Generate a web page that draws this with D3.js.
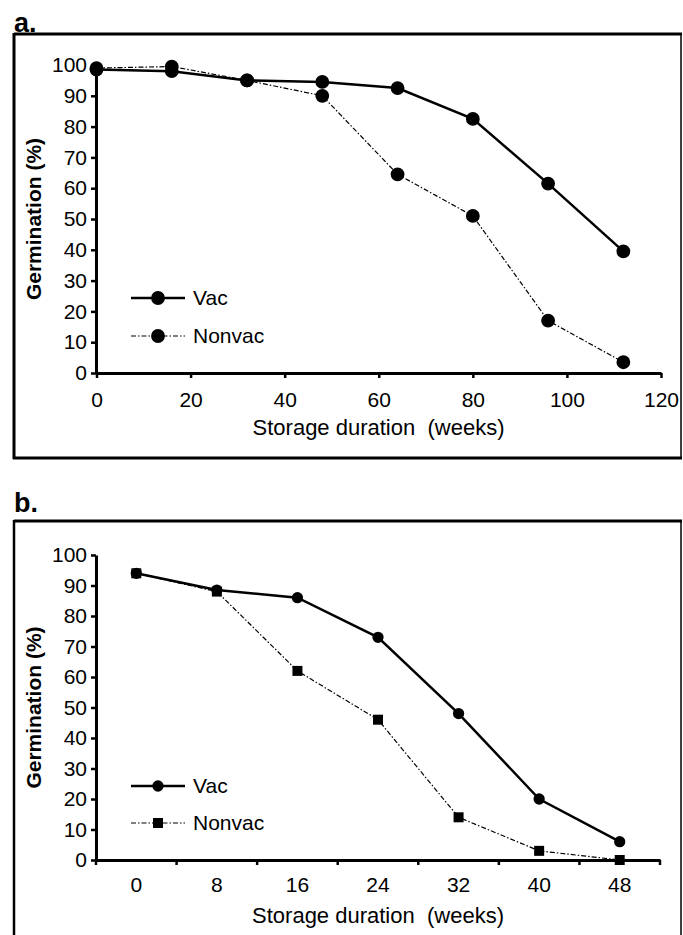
<!DOCTYPE html>
<html>
<head>
<meta charset="utf-8">
<script src="https://cdn.jsdelivr.net/npm/d3@7"></script>
<style>
  body { margin: 0; background: #fff; }
  text { font-family: "Liberation Sans", Arial, sans-serif; fill: #000; }
</style>
</head>
<body>
<div id="chart"></div>
<script>
// panel a
const weeksA = [0, 16, 32, 48, 64, 80, 96, 112];
const vacA = [98.5, 98, 95, 94.5, 92.5, 82.5, 61.5, 39.5];
const nonvacA = [99, 99.5, 95, 90, 64.5, 51, 17, 3.5];
const xTicksA = [0, 20, 40, 60, 80, 100, 120];

// panel b
const weeksB = [0, 8, 16, 24, 32, 40, 48];
const vacB = [94, 88.5, 86, 73, 48, 20, 6];
const nonvacB = [94, 88, 62, 46, 14, 3, 0];

const yTicks = [0, 10, 20, 30, 40, 50, 60, 70, 80, 90, 100];
const seriesNames = ["Vac", "Nonvac"];

const W = 683, H = 935;

const svg = d3
  .select("#chart")
  .append("svg")
  .attr("width", W)
  .attr("height", H);

// frames
function frameLine(x1, y1, x2, y2, w) {
  svg.append("line")
    .attr("x1", x1).attr("y1", y1).attr("x2", x2).attr("y2", y2)
    .attr("stroke", "#000").attr("stroke-width", w);
}
frameLine(14, 34, 682, 34, 3);
frameLine(14, 33, 14, 459, 3);
frameLine(681, 34, 681, 459, 1.5);
frameLine(13, 458, 682, 458, 3);

frameLine(14, 521, 682, 521, 3);
frameLine(14, 520, 14, 935, 2.5);
frameLine(681, 521, 681, 935, 1.5);

const lineStyle = {
  Vac: { width: 2.5, dash: null },
  Nonvac: { width: 1.2, dash: "5,2,1.5,2" }
};

function drawPanel(p) {
  const g = svg.append("g");

  g.append("text")
    .attr("x", 14)
    .attr("y", p.labelY)
    .style("font-size", "27px")
    .style("font-weight", "bold")
    .text(p.label);

  const y = d3.scaleLinear().domain([0, 100]).range([p.y0, p.y100]);

  // y axis
  const yAxis = g.append("g")
    .attr("transform", `translate(${p.axisX},0)`)
    .call(d3.axisLeft(y).tickValues(yTicks).tickSize(5).tickSizeOuter(0).tickPadding(4));
  yAxis.select(".domain").attr("stroke-width", 3);
  yAxis.selectAll(".tick line").attr("stroke-width", 2.5);
  yAxis.selectAll(".tick text")
    .style("font-size", "21px")
    .style("font-family", "'Liberation Sans', Arial, sans-serif");

  g.append("text")
    .attr("transform", `translate(41,${(p.y0 + p.y100) / 2}) rotate(-90)`)
    .attr("text-anchor", "middle")
    .style("font-size", "21px")
    .style("font-weight", "bold")
    .text("Germination (%)");

  // x axis
  const xAxis = g.append("g").attr("transform", `translate(0,${p.y0})`);
  let xPos;
  if (p.band) {
    const x = d3.scaleBand().domain(p.weeks).range([p.axisX, p.axisEnd]).padding(0);
    xPos = (d) => x(d) + x.bandwidth() / 2;
    xAxis.call(d3.axisBottom(x).tickSize(0).tickSizeOuter(0).tickPadding(17));
    xAxis.selectAll(".bound")
      .data(p.weeks.map((d) => x(d)).concat([x.range()[1]]))
      .join("line")
      .attr("class", "bound")
      .attr("x1", (d) => d).attr("x2", (d) => d)
      .attr("y1", 0).attr("y2", 5)
      .attr("stroke", "#000")
      .attr("stroke-width", 2.5);
  } else {
    const x = d3.scaleLinear().domain([0, 120]).range([p.axisX + 0.5, p.axisEnd]);
    xPos = (d) => x(d);
    xAxis.call(d3.axisBottom(x).tickValues(xTicksA).tickSize(5).tickSizeOuter(0).tickPadding(14));
    xAxis.selectAll(".tick line").attr("stroke-width", 2.5);
  }
  xAxis.select(".domain").attr("stroke-width", 3);
  xAxis.selectAll(".tick text")
    .style("font-size", "21px")
    .style("font-family", "'Liberation Sans', Arial, sans-serif");

  g.append("text")
    .attr("x", (p.axisX + p.axisEnd) / 2)
    .attr("y", p.titleY)
    .attr("text-anchor", "middle")
    .attr("xml:space", "preserve")
    .style("white-space", "pre")
    .style("font-size", "22px")
    .text("Storage duration  (weeks)");

  // series
  const series = [
    { name: "Vac", values: p.vac },
    { name: "Nonvac", values: p.nonvac }
  ];
  const line = d3.line()
    .x((d, i) => xPos(p.weeks[i]))
    .y((d) => y(d));

  series.forEach((s) => {
    const st = lineStyle[s.name];
    g.append("path")
      .attr("d", line(s.values))
      .attr("fill", "none")
      .attr("stroke", "#000")
      .attr("stroke-width", st.width)
      .attr("stroke-dasharray", st.dash);
  });

  series.forEach((s) => {
    const sym = d3.symbol().type(p.symbols[s.name]).size(p.symbolSize[s.name]);
    g.append("g")
      .selectAll("path")
      .data(s.values)
      .join("path")
      .attr("transform", (d, i) => `translate(${xPos(p.weeks[i])},${y(d)})`)
      .attr("d", sym)
      .attr("fill", "#000");
  });

  // legend
  const legend = g.append("g");
  seriesNames.forEach((name, i) => {
    const ly = p.legendY[i];
    const st = lineStyle[name];
    legend.append("line")
      .attr("x1", 131).attr("x2", 185)
      .attr("y1", ly).attr("y2", ly)
      .attr("stroke", "#000")
      .attr("stroke-width", st.width)
      .attr("stroke-dasharray", st.dash);
    legend.append("path")
      .attr("transform", `translate(158,${ly})`)
      .attr("d", d3.symbol().type(p.symbols[name]).size(p.symbolSize[name]))
      .attr("fill", "#000");
    legend.append("text")
      .attr("x", 193)
      .attr("y", ly)
      .attr("dy", "0.35em")
      .style("font-size", "21px")
      .text(name);
  });
}

drawPanel({
  label: "a.",
  labelY: 32,
  y0: 373,
  y100: 65,
  axisX: 96,
  axisEnd: 661,
  band: false,
  weeks: weeksA,
  vac: vacA,
  nonvac: nonvacA,
  titleY: 435,
  legendY: [298, 336],
  symbols: { Vac: d3.symbolCircle, Nonvac: d3.symbolCircle },
  symbolSize: { Vac: 150, Nonvac: 150 }
});

drawPanel({
  label: "b.",
  labelY: 512,
  y0: 860,
  y100: 555,
  axisX: 96,
  axisEnd: 660,
  band: true,
  weeks: weeksB,
  vac: vacB,
  nonvac: nonvacB,
  titleY: 923,
  legendY: [786, 823],
  symbols: { Vac: d3.symbolCircle, Nonvac: d3.symbolSquare },
  symbolSize: { Vac: 100, Nonvac: 100 }
});
</script>
</body>
</html>
